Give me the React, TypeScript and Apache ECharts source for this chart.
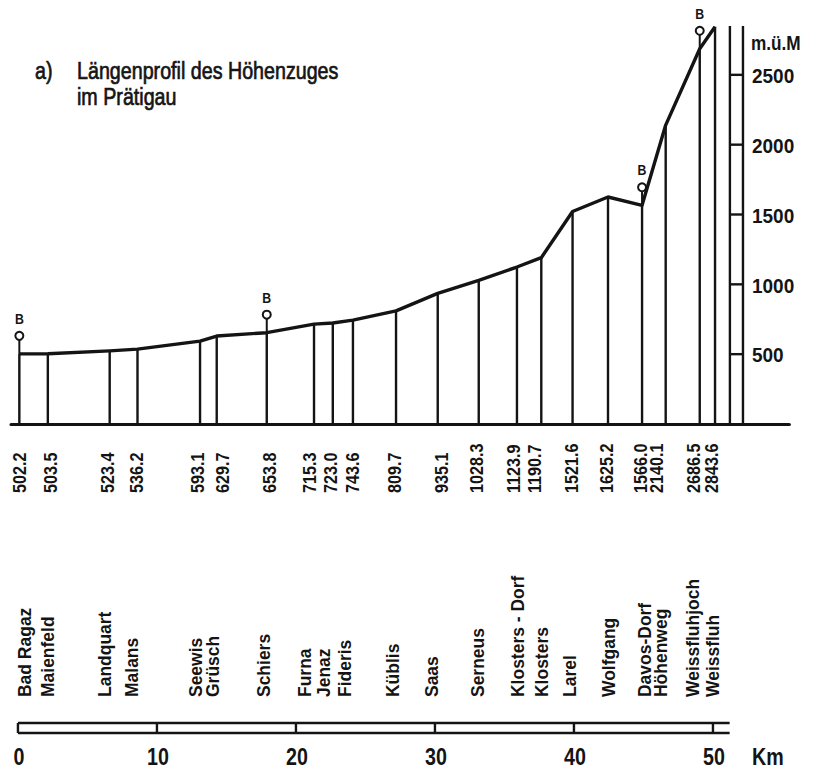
import React, { useEffect, useRef } from "react";
import * as echarts from "echarts";

// ---------------- data ----------------
const stationKm = [0.1, 2.15, 6.6, 8.6, 13.1, 14.3, 17.9, 21.3, 22.65, 24.1, 27.2, 30.2, 33.15, 35.9, 37.65, 39.9, 42.45, 44.9, 46.6, 49.05, 50.15];
const elevations = [502.2, 503.5, 523.4, 536.2, 593.1, 629.7, 653.8, 715.3, 723.0, 743.6, 809.7, 935.1, 1028.3, 1123.9, 1190.7, 1521.6, 1625.2, 1566.0, 2140.1, 2686.5, 2843.6];
const stationNames = [
  "Bad Ragaz", "Maienfeld", "Landquart", "Malans", "Seewis", "Grüsch", "Schiers",
  "Furna", "Jenaz", "Fideris", "Küblis", "Saas", "Serneus", "Klosters - Dorf", "Klosters",
  "Larel", "Wolfgang", "Davos-Dorf", "Höhenweg", "Weissfluhjoch", "Weissfluh",
];
const bStations = [0, 6, 17, 19];
const heightTicks = [500, 1000, 1500, 2000, 2500];
const kmTicks = [0, 10, 20, 30, 40, 50];
const titlePrefix = "a)";
const titleLines = ["Längenprofil des Höhenzuges", "im Prätigau"];
const heightUnit = "m.ü.M";
const kmUnit = "Km";
const scaleTop = 2850;
const kmBarEnd = 51.2;

// ---------------- layout / style ----------------
const INK = "#141414";
const FONT = '"Liberation Sans", Arial, "DejaVu Sans", sans-serif';
const NARROW_SCALE = 0.82;
const elevLabelDx = [0, 3, -2, -1, -3, 6, 3, -4, -2, 0, -1, 4, -2, -3, -7, -1, -1, -2, -9, -6, -4];
const nameDx = [5, -1, -5, -6, -5, -4, -4, -10, -10, -9, -4, -6, -1, 0, 0, -3, 0, 2, -5, -8, -3];
const SCALE_X = [51.22, 52.16];

const narrowText = (x: number, y: number, text: string, font: string, extra: any = {}) => ({
  type: "text",
  x,
  y,
  scaleX: NARROW_SCALE,
  style: { text, font, fill: INK, align: "left", verticalAlign: "middle", ...extra },
});

export default function App() {
  const ref = useRef<HTMLDivElement>(null);

  useEffect(() => {
    const chart = echarts.init(ref.current!, null, { renderer: "svg" });
    const profile = stationKm.map((k, i) => [k, elevations[i]]);
    const titleExtra = { stroke: INK, lineWidth: 0.7 };

    const option: any = {
      animation: false,
      backgroundColor: "#ffffff",
      grid: [
        { left: 11, top: 5, width: 778.4, height: 419 },
        { left: 11, top: 723, width: 778.4, height: 10 },
      ],
      xAxis: [
        {
          type: "value", gridIndex: 0, min: -0.5, max: 55.5,
          axisLine: { show: true, onZero: false, lineStyle: { color: INK, width: 3 } },
          axisTick: { show: false }, axisLabel: { show: false }, splitLine: { show: false },
        },
        { type: "value", gridIndex: 1, min: -0.5, max: 55.5, show: false },
      ],
      yAxis: [
        { type: "value", gridIndex: 0, min: 0, max: 3000, show: false },
        { type: "value", gridIndex: 1, min: 0, max: 1, show: false },
      ],
      graphic: [
        narrowText(35, 71, titlePrefix, `24px ${FONT}`, titleExtra),
        narrowText(77, 71, titleLines[0], `24px ${FONT}`, titleExtra),
        narrowText(77, 97, titleLines[1], `24px ${FONT}`, titleExtra),
        narrowText(751, 43, heightUnit, `bold 21px ${FONT}`),
        narrowText(752, 757, kmUnit, `bold 24px ${FONT}`),
      ],
      series: [
        {
          type: "custom",
          name: "stations",
          xAxisIndex: 0, yAxisIndex: 0,
          clip: false,
          data: profile,
          renderItem: (params: any, api: any) => {
            const i = params.dataIndex;
            const top = api.coord([api.value(0), api.value(1)]);
            const bot = api.coord([api.value(0), 0]);
            return {
              type: "group",
              children: [
                { type: "line", shape: { x1: top[0], y1: bot[1], x2: top[0], y2: top[1] }, style: { stroke: INK, lineWidth: 2.4 } },
                {
                  type: "text", x: top[0] + elevLabelDx[i], y: bot[1] + 69, rotation: Math.PI / 2, scaleX: 0.85,
                  style: { text: elevations[i].toFixed(1), font: `bold 19px ${FONT}`, fill: INK, align: "left", verticalAlign: "middle" },
                },
                {
                  type: "text", x: top[0] + nameDx[i], y: bot[1] + 273, rotation: Math.PI / 2, scaleX: 0.92,
                  style: { text: stationNames[i], font: `bold 19px ${FONT}`, fill: INK, align: "left", verticalAlign: "middle" },
                },
              ],
            };
          },
          z: 2,
        },
        {
          type: "line",
          name: "profile",
          xAxisIndex: 0, yAxisIndex: 0,
          data: profile,
          symbol: "none",
          lineStyle: { color: INK, width: 3.4, join: "round" },
          z: 3,
        },
        {
          type: "custom",
          name: "B",
          xAxisIndex: 0, yAxisIndex: 0,
          clip: false,
          data: bStations.map((i) => [stationKm[i], elevations[i]]),
          renderItem: (params: any, api: any) => {
            const p = api.coord([api.value(0), api.value(1)]);
            return {
              type: "group",
              children: [
                { type: "line", shape: { x1: p[0], y1: p[1], x2: p[0], y2: p[1] - 14 }, style: { stroke: INK, lineWidth: 2 } },
                { type: "circle", shape: { cx: p[0], cy: p[1] - 18, r: 4 }, style: { fill: "#fff", stroke: INK, lineWidth: 2 } },
                {
                  type: "text", x: p[0], y: p[1] - 35, scaleX: NARROW_SCALE,
                  style: { text: "B", font: `bold 15px ${FONT}`, fill: INK, align: "center", verticalAlign: "middle" },
                },
              ],
            };
          },
          z: 4,
        },
        {
          type: "custom",
          name: "heightScale",
          xAxisIndex: 0, yAxisIndex: 0,
          clip: false,
          data: heightTicks.map((v) => [SCALE_X[0], v]),
          renderItem: (params: any, api: any) => {
            const v = api.value(1);
            const a = api.coord([SCALE_X[0], v]);
            const b = api.coord([SCALE_X[1], v]);
            const children: any[] = [
              { type: "line", shape: { x1: a[0], y1: a[1], x2: b[0], y2: b[1] }, style: { stroke: INK, lineWidth: 2.4 } },
              {
                type: "text", x: b[0] + 9, y: b[1] + 1, scaleX: 0.95,
                style: { text: String(v), font: `bold 20px ${FONT}`, fill: INK, align: "left", verticalAlign: "middle" },
              },
            ];
            if (params.dataIndex === 0) {
              SCALE_X.forEach((sx) => {
                const lo = api.coord([sx, 0]);
                const hi = api.coord([sx, scaleTop]);
                children.push({ type: "line", shape: { x1: lo[0], y1: lo[1], x2: hi[0], y2: hi[1] }, style: { stroke: INK, lineWidth: 2.4 } });
              });
            }
            return { type: "group", children };
          },
          z: 2,
        },
        {
          type: "custom",
          name: "kmBar",
          xAxisIndex: 1, yAxisIndex: 1,
          clip: false,
          data: kmTicks.map((k) => [k, 0]),
          renderItem: (params: any, api: any) => {
            const k = api.value(0);
            const lo = api.coord([k, 0]);
            const hi = api.coord([k, 1]);
            const children: any[] = [
              { type: "line", shape: { x1: lo[0], y1: lo[1], x2: hi[0], y2: hi[1] }, style: { stroke: INK, lineWidth: 2.4 } },
              {
                type: "text", x: lo[0] + 1, y: lo[1] + 24, scaleX: NARROW_SCALE,
                style: { text: String(k), font: `bold 24px ${FONT}`, fill: INK, align: "center", verticalAlign: "middle" },
              },
            ];
            if (params.dataIndex === 0) {
              [0, 1].forEach((yy) => {
                const s = api.coord([0, yy]);
                const e = api.coord([kmBarEnd, yy]);
                children.push({ type: "line", shape: { x1: s[0], y1: s[1], x2: e[0], y2: e[1] }, style: { stroke: INK, lineWidth: 2.4 } });
              });
            }
            return { type: "group", children };
          },
          z: 2,
        },
      ],
    };

    chart.setOption(option);
    return () => chart.dispose();
  }, []);

  return (
    <div
      ref={ref}
      style={{ position: "fixed", left: 0, top: 0, width: 825, height: 776, background: "#fff" }}
    />
  );
}
